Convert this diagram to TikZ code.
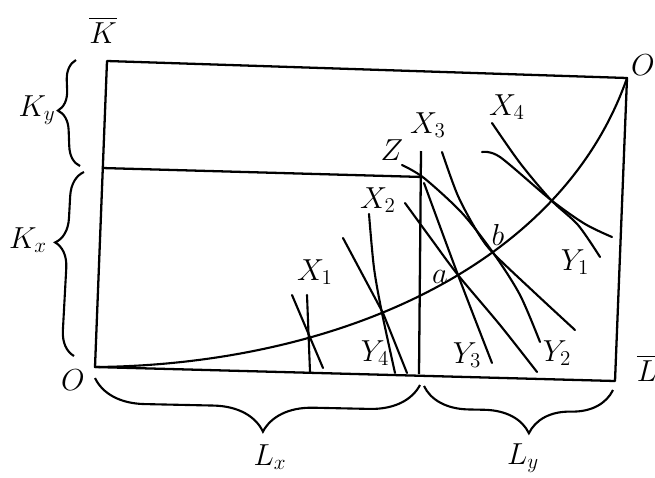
\documentclass[tikz,border=0pt]{standalone}
\usepackage{amsmath,amssymb}
\usepackage{tikz}
\usetikzlibrary{decorations.pathreplacing}

\begin{document}
\begin{tikzpicture}[
  x=0.02cm, y=-0.02cm,
  frame/.style={line width=1.3pt,line join=round},
  iso/.style={line width=1.2pt,line cap=round},
  brc/.style={line width=1.2pt,decorate,decoration={brace,amplitude=#1}},
  lbl/.style={font=\fontsize{17}{20}\selectfont,inner sep=0pt}
]
\useasboundingbox (0,0) rectangle (655,477);

% box corners
\coordinate (O1) at (95,367);
\coordinate (TL) at (107,61);
\coordinate (O2) at (627,78);
\coordinate (BR) at (615,381);
\draw[frame] (O1) -- (TL) -- (O2) -- (BR) -- cycle;

% split of K and L
\coordinate (ksplit) at (102,168);
\coordinate (corner) at (423,177);
\coordinate (ltop) at (421,151);
\coordinate (lsplit) at (419,374);
\draw[frame] (ksplit) -- (corner);
\draw[frame] (ltop) -- (lsplit);

% contract curve
\draw[iso] (O1) .. controls (330,365) and (560,270) .. (O2);

% isoquants
\draw[iso] (292,295) -- (323,368);
\draw[iso] (307,295) -- (310,372);
\draw[iso] (343,238) -- (383,313) -- (407,373);
\draw[iso] plot[smooth] coordinates {(369,214) (374,268) (382,313) (395,373)};
\draw[iso] plot[smooth] coordinates {(405,203) (432,240) (458,275) (500,325) (537,372)};
\draw[iso] plot[smooth] coordinates {(424,183) (458,275) (492,363)};
\draw[iso] plot[smooth] coordinates {(402,165) (424,178) (462,213) (494,254) (520,295) (540,342)};
\draw[iso] plot[smooth] coordinates {(442,152) (458,196) (478,233) (494,254) (535,293) (575,330)};
\draw[iso] plot[smooth] coordinates {(492,123) (520,163) (551,200) (578,225) (600,257)};
\draw[iso] plot[smooth] coordinates {(482,152) (500,157) (551,200) (585,224) (612,237)};

% braces
\draw[brc=0.4cm,decoration={aspect=0.53}] (80,166) -- (76,60);
\draw[brc=0.5cm,decoration={aspect=0.61}] (74,356) -- (84,172);
\draw[brc=1.0cm,decoration={aspect=0.48}] (420,385) -- (95,378);
\draw[brc=0.9cm,decoration={aspect=0.44}] (613,390) -- (424,386);

% labels
\node[lbl] (kbar) at (103,30) {$\overline{K}$};
\node[lbl] (ky) at (37,110) {$K_y$};
\node[lbl] (kx) at (28,240) {$K_x$};
\node[lbl] (o1) at (73,380) {$O$};
\node[lbl] (o2) at (643,65) {$O$};
\node[lbl] (lbar) at (647,368) {$\overline{L}$};
\node[lbl] (lx) at (270,457) {$L_x$};
\node[lbl] (ly) at (523,458) {$L_y$};
\node[lbl] (x1) at (315,272) {$X_1$};
\node[lbl] (x2) at (378,200) {$X_2$};
\node[lbl] (x3) at (428,125) {$X_3$};
\node[lbl] (x4) at (507,107) {$X_4$};
\node[lbl] (z) at (392,150) {$Z$};
\node[lbl] (a) at (440,277) {$a$};
\node[lbl] (b) at (498,235) {$b$};
\node[lbl] (y1) at (575,262) {$Y_1$};
\node[lbl] (y2) at (557,353) {$Y_2$};
\node[lbl] (y3) at (467,355) {$Y_3$};
\node[lbl] (y4) at (375,353) {$Y_4$};
\end{tikzpicture}
\end{document}
